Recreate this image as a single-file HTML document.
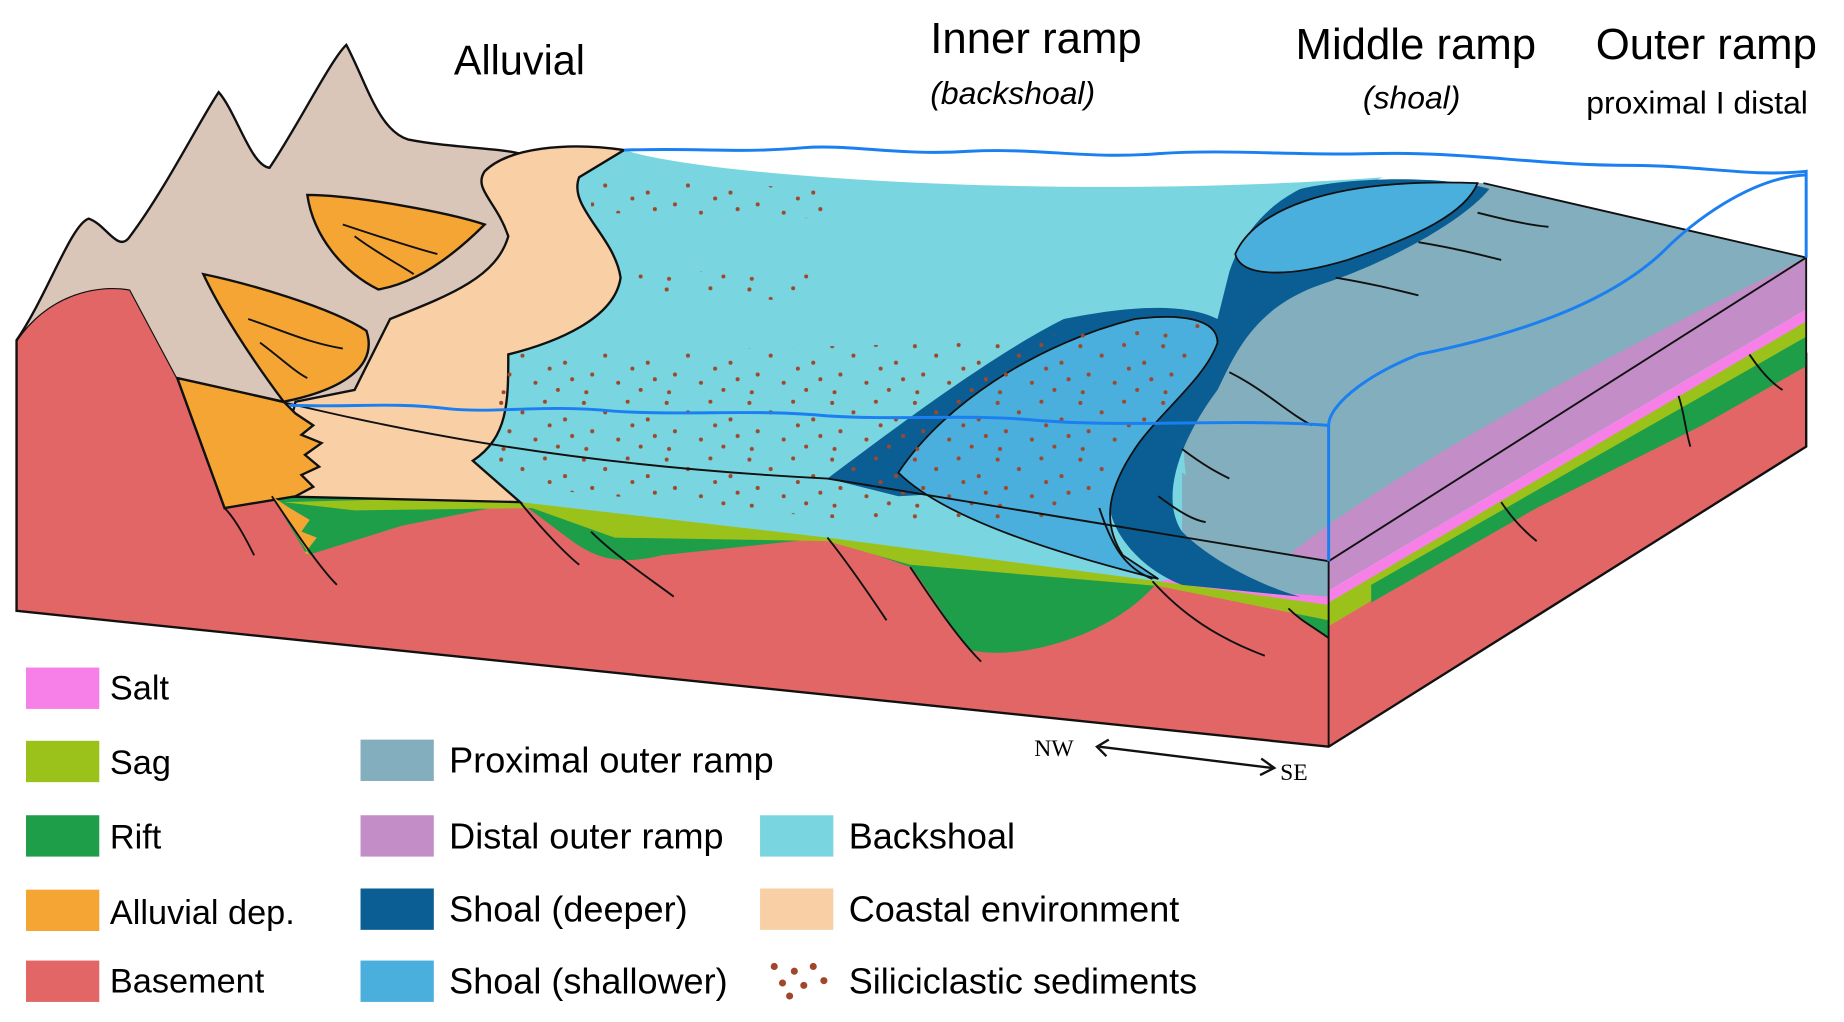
<!DOCTYPE html>
<html><head><meta charset="utf-8"><style>
html,body{margin:0;padding:0;background:#fff;}
svg{display:block}
text{font-family:"Liberation Sans",sans-serif;fill:#000}
</style></head><body>
<svg width="1844" height="1022" viewBox="0 0 1560 865" preserveAspectRatio="none" xmlns="http://www.w3.org/2000/svg">
<defs>
<pattern id="dots" width="70" height="48" patternUnits="userSpaceOnUse">
<g fill="#a0462a">
<circle cx="4" cy="5" r="1.7"/><circle cx="22" cy="13" r="1.7"/><circle cx="41" cy="4" r="1.7"/><circle cx="58" cy="19" r="1.7"/><circle cx="11" cy="29" r="1.7"/><circle cx="33" cy="36" r="1.7"/><circle cx="52" cy="42" r="1.7"/><circle cx="64" cy="33" r="1.7"/><circle cx="45" cy="24" r="1.7"/><circle cx="6" cy="44" r="1.7"/>
</g></pattern>
</defs>
<path d="M14,288 C40,250 80,240 110,245 L150,320 L190,430 L230,420 L440,425 L700,455 L980,492 L1124,515 L1528,300 L1528,378 L1124,632 L14,517 Z" fill="#e36666" stroke="#111" stroke-width="2"/>
<path d="M230,420 L440,420 L700,450 L980,490 L1124,505 L1124,540 L1090,515 L980,492 C940,540 860,560 820,550 C790,510 780,490 770,480 L700,455 L560,470 C520,480 500,470 480,455 L440,425 L340,445 L260,470 Z" fill="#1f9e4a"/>
<path d="M240,425 L440,420 L700,450 L980,490 L1124,505 L1124,525 L980,496 L770,478 L700,458 L520,455 L450,430 L300,432 Z" fill="#9bc21b"/>
<path d="M240,420 L440,418 L700,448 L980,488 L1124,502 L1124,512 L980,492 L700,452 L440,422 Z" fill="#f77fe8"/>
<path d="M1124,505 L1528,265 L1528,290 L1124,530 Z" fill="#9bc21b"/>
<path d="M1124,500 L1528,262 L1528,272 L1124,510 Z" fill="#f77fe8"/>
<path d="M1160,495 L1528,285 L1528,310 L1440,360 L1300,430 L1160,510 Z" fill="#1f9e4a"/>
<path d="M14,288 C40,250 60,190 75,185 C90,190 100,215 110,200 C140,160 170,100 185,78 C200,95 212,140 228,142 C250,110 280,50 293,38 C310,70 320,110 345,118 C380,125 420,125 440,130 C480,122 510,124 528,127 L500,150 L490,200 L430,300 L300,340 L240,345 L150,320 L110,245 C80,240 40,250 14,288 Z" fill="#d9c6b9"/>
<path d="M14,288 C40,250 60,190 75,185 C90,190 100,215 110,200 C140,160 170,100 185,78 C200,95 212,140 228,142 C250,110 280,50 293,38 C310,70 320,110 345,118 C380,125 420,125 440,130" fill="none" stroke="#111" stroke-width="2"/>
<path d="M440,145 L528,127 C600,150 900,170 1170,150 L1100,180 C1000,300 980,400 1050,480 L980,492 L700,455 L440,425 L400,390 L430,300 Z" fill="#79d6e0"/>
<path d="M410,145 C430,125 480,120 528,127 L490,150 C480,175 520,200 525,235 C520,270 470,290 430,300 C430,340 430,370 400,390 L440,425 L230,420 L250,340 L300,330 L330,270 C380,250 420,235 430,200 C420,170 400,160 410,145 Z" fill="#f9cfa6" stroke="#111" stroke-width="2"/>
<path d="M1030,290 C1050,200 1150,150 1255,155 L1528,218 L1124,475 L1060,480 C1000,440 980,380 1030,290 Z" fill="#82aebd"/>
<path d="M1000,400 L1124,470 L1124,505 L1000,495 Z" fill="#82aebd"/>
<path d="M1528,218 L1124,475 L1090,470 C1150,420 1300,330 1500,232 Z" fill="#c38ec8"/>
<path d="M1124,475 L1528,218 L1528,262 L1124,500 Z" fill="#c38ec8"/>
<path d="M1100,160 C1140,150 1220,148 1260,160 C1240,185 1180,220 1120,240 C1060,260 1045,300 1030,330 C1000,370 980,420 1000,450 C1030,480 1080,500 1100,505 L1000,495 C960,480 930,440 940,410 L760,420 L700,405 C760,360 840,300 900,270 C950,260 1000,255 1030,270 L1040,230 C1050,200 1070,175 1100,160 Z" fill="#0a5e94"/>
<path d="M1045,215 C1060,180 1120,150 1250,155 C1240,180 1200,200 1140,220 C1090,235 1050,235 1045,215 Z" fill="#4aafdc" stroke="#111" stroke-width="1.5"/>
<path d="M760,400 C800,340 880,290 960,270 C1000,265 1030,270 1030,290 C1020,320 980,350 960,380 C940,410 930,440 950,470 L980,490 C900,470 800,440 760,400 Z" fill="#4aafdc" stroke="#111" stroke-width="1.5"/>
<path d="M500,150 L700,160 L700,185 L500,180 Z" fill="url(#dots)"/>
<path d="M540,228 L690,232 L690,255 L540,250 Z" fill="url(#dots)"/>
<path d="M420,300 L820,290 L1030,270 L1000,330 L900,440 L720,440 L420,410 Z" fill="url(#dots)"/>
<path d="M260,165 C300,165 380,180 410,190 C380,220 350,240 320,245 C290,230 265,200 260,165 Z" fill="#f5a533" stroke="#111" stroke-width="2"/>
<path d="M172,232 C210,240 280,260 310,280 C320,310 290,330 240,340 C210,300 185,260 172,232 Z" fill="#f5a533" stroke="#111" stroke-width="2"/>
<path d="M150,320 L240,340 L250,350 L265,360 L255,368 L272,375 L258,385 L270,395 L255,402 L265,412 L250,420 L190,430 Z" fill="#f5a533" stroke="#111" stroke-width="2"/>
<path d="M230,420 L245,430 L262,440 L255,450 L268,455 L258,468 L262,470 Z" fill="#f5a533"/>
<g fill="none" stroke="#111" stroke-width="1.6">
<path d="M290,190 C320,200 350,210 370,215"/><path d="M300,200 C320,215 340,225 350,232"/><path d="M210,270 C240,280 260,290 290,295"/><path d="M220,290 C240,305 250,315 260,320"/>
<path d="M150,320 C250,340 400,390 700,405 L1124,475"/>
<path d="M1124,475 L1528,218"/>
<path d="M1255,155 L1528,218"/>
<path d="M1124,475 L1124,632"/>
<path d="M1528,218 L1528,378"/>
<path d="M14,288 L14,517"/>
<path d="M190,430 C200,440 210,460 215,470"/><path d="M230,420 C250,450 270,480 285,495"/><path d="M440,425 C460,450 480,470 490,478"/><path d="M500,450 C520,470 550,490 570,505"/><path d="M700,455 C720,480 740,510 750,525"/><path d="M770,480 C790,510 810,540 830,560"/><path d="M975,492 C1000,520 1030,540 1070,555"/><path d="M1090,515 C1100,525 1110,530 1124,540"/><path d="M1270,425 C1280,440 1290,450 1300,458"/><path d="M1420,335 C1425,350 1425,360 1430,378"/><path d="M1480,300 C1490,315 1500,325 1508,330"/><path d="M930,430 C940,460 950,480 975,490"/>
<path d="M1250,180 C1270,185 1290,190 1310,192"/><path d="M1200,205 C1230,210 1250,215 1270,220"/><path d="M1130,235 C1160,240 1180,245 1200,250"/><path d="M1040,315 C1070,330 1090,350 1110,360"/><path d="M1000,380 C1020,395 1030,400 1040,405"/><path d="M980,420 C1000,435 1010,440 1020,442"/>
</g>
<g fill="none" stroke="#1a7ff0" stroke-width="2.5">
<path d="M528,127 C600,125 620,130 680,125 C720,122 760,132 820,128 C880,125 920,135 980,130 C1040,126 1100,132 1160,130 C1240,128 1300,140 1380,140 C1440,140 1480,150 1528,145 L1528,218"/>
<path d="M1528,148 C1480,150 1430,190 1410,210 C1370,250 1300,280 1200,300 C1150,320 1124,345 1124,360 L1124,475"/>
<path d="M245,343 C300,345 330,340 380,346 C420,350 460,342 520,348 C580,352 640,346 700,352 C760,356 820,350 880,356 C960,362 1040,354 1124,360"/>
</g>
<text x="384" y="63" font-size="35">Alluvial</text>
<text x="787" y="45" font-size="37">Inner ramp</text>
<text x="787" y="88" font-size="27" font-style="italic">(backshoal)</text>
<text x="1096" y="50" font-size="37">Middle ramp</text>
<text x="1153" y="92" font-size="27" font-style="italic">(shoal)</text>
<text x="1350" y="50" font-size="37">Outer ramp</text>
<text x="1342" y="96" font-size="27">proximal I distal</text>
<g stroke="#111" stroke-width="2" fill="none">
<path d="M930,632 L1076,650"/><path d="M938,626 L928,632 L936,640"/><path d="M1067,642 L1078,650 L1066,656"/>
</g>
<text x="875" y="640" font-size="20" style="font-family:'Liberation Serif',serif">NW</text>
<text x="1083" y="660" font-size="20" style="font-family:'Liberation Serif',serif">SE</text>
<rect x="22" y="565" width="62" height="35" fill="#f77fe8"/><text x="93" y="592" font-size="29">Salt</text>
<rect x="22" y="627" width="62" height="35" fill="#9bc21b"/><text x="93" y="655" font-size="29">Sag</text>
<rect x="22" y="690" width="62" height="35" fill="#1f9e4a"/><text x="93" y="718" font-size="29">Rift</text>
<rect x="22" y="753" width="62" height="35" fill="#f5a533"/><text x="93" y="782" font-size="29">Alluvial dep.</text>
<rect x="22" y="813" width="62" height="35" fill="#e36666"/><text x="93" y="840" font-size="29">Basement</text>
<rect x="305" y="626" width="62" height="35" fill="#82aebd"/><text x="380" y="654" font-size="30.5">Proximal outer ramp</text>
<rect x="305" y="690" width="62" height="35" fill="#c38ec8"/><text x="380" y="718" font-size="30.5">Distal outer ramp</text>
<rect x="305" y="752" width="62" height="35" fill="#0a5e94"/><text x="380" y="780" font-size="30.5">Shoal (deeper)</text>
<rect x="305" y="813" width="62" height="35" fill="#4aafdc"/><text x="380" y="841" font-size="30.5">Shoal (shallower)</text>
<rect x="643" y="690" width="62" height="35" fill="#79d6e0"/><text x="718" y="718" font-size="30.5">Backshoal</text>
<rect x="643" y="752" width="62" height="35" fill="#f9cfa6"/><text x="718" y="780" font-size="30.5">Coastal environment</text>
<g fill="#a0462a"><circle cx="655" cy="818" r="3"/><circle cx="672" cy="822" r="3"/><circle cx="688" cy="818" r="3"/><circle cx="662" cy="832" r="3"/><circle cx="680" cy="834" r="3"/><circle cx="697" cy="830" r="3"/><circle cx="668" cy="843" r="3"/></g>
<text x="718" y="841" font-size="30.5">Siliciclastic sediments</text>
</svg>
</body></html>
